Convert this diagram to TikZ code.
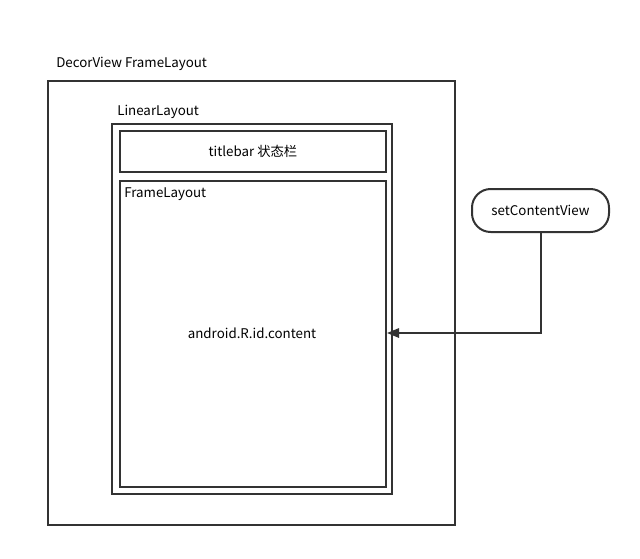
\documentclass[tikz,border=0pt]{standalone}
\usepackage{fontspec}
\setmainfont{Noto Sans CJK SC}
\usetikzlibrary{arrows.meta}
\definecolor{ln}{HTML}{333333}
\begin{document}
\begin{tikzpicture}[x=0.75pt,y=-0.75pt,
  box/.style={draw=ln,line width=1.5pt},
  lbl/.style={font=\fontsize{10}{12}\selectfont,text=black,inner sep=0pt},
  conn/.style={draw=ln,line width=1.5pt,-{Triangle[length=9pt,width=7pt]}}]
\useasboundingbox (0,0) rectangle (640,558);
\draw[box] (48,81) rectangle (455,525);
\node[lbl,anchor=west] (decor) at (56,63.5) {DecorView FrameLayout};
\draw[box] (112,124) rectangle (392,494);
\node[lbl,anchor=west] (lin) at (117,111.5) {LinearLayout};
\node[box,minimum width=266*0.75pt,minimum height=41*0.75pt,anchor=north west,inner sep=0pt] (title) at (119,130) {};
\node[lbl] at (title.center) {titlebar 状态栏};
\node[box,minimum width=266*0.75pt,minimum height=306*0.75pt,anchor=north west,inner sep=0pt] (content) at (119,180) {};
\node[lbl,anchor=west] (fl) at (124,194.5) {FrameLayout};
\node[lbl] (cid) at (252,333) {android.R.id.content};
\node[box,rounded corners=14pt,minimum width=137*0.75pt,minimum height=43*0.75pt,inner sep=0pt] (scv) at (540.5,210.5) {};
\node[lbl] at (scv.center) {setContentView};
\coordinate (tip) at (content.east |- cid);
\draw[conn] (scv.south) |- (tip);
\end{tikzpicture}
\end{document}
